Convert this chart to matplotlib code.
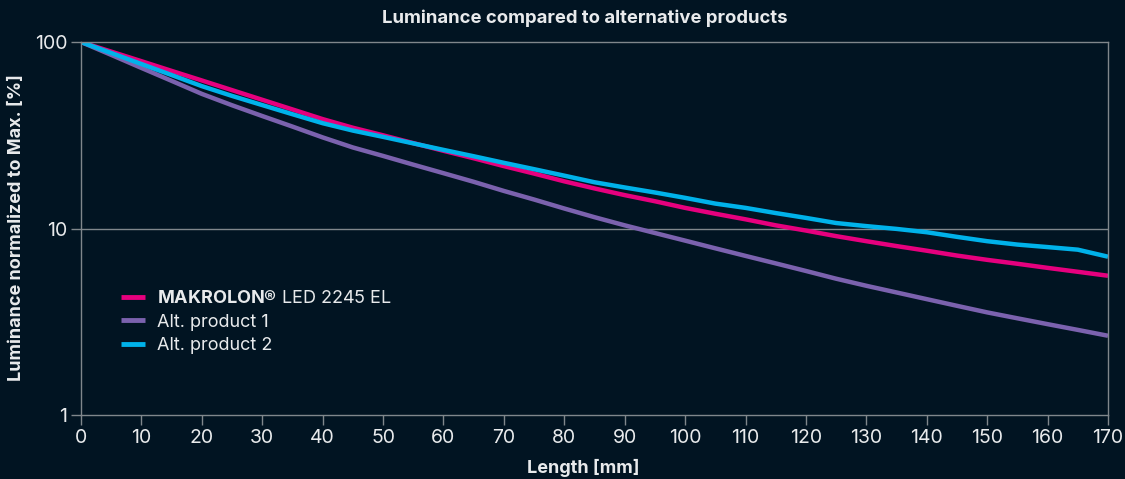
import matplotlib
matplotlib.use("Agg")
import matplotlib.pyplot as plt

plt.rcParams['font.family'] = ['Inter', 'DejaVu Sans']
plt.rcParams['mathtext.fontset'] = 'custom'
plt.rcParams['mathtext.bf'] = 'Inter:bold'
plt.rcParams['mathtext.rm'] = 'Inter'

length_mm = [0, 5, 10, 15, 20, 25, 30, 35, 40, 45, 50, 55, 60, 65, 70, 75, 80, 85,
             90, 95, 100, 105, 110, 115, 120, 125, 130, 135, 140, 145, 150, 155,
             160, 165, 170]

makrolon = [100, 88.8, 78.9, 70.0, 62.2, 55.2, 49.0, 43.5, 38.6, 34.7, 31.6, 28.7,
            26.1, 23.8, 21.6, 19.7, 17.9, 16.4, 15.1, 14.0, 12.9, 12.0, 11.2, 10.4,
            9.75, 9.10, 8.55, 8.05, 7.60, 7.16, 6.79, 6.47, 6.15, 5.86, 5.58]

alt1 = [100, 85.3, 72.6, 61.9, 52.7, 45.8, 40.1, 35.2, 30.8, 27.2, 24.5, 22.0,
        19.8, 17.8, 15.9, 14.3, 12.8, 11.5, 10.4, 9.46, 8.61, 7.83, 7.13, 6.50,
        5.92, 5.38, 4.93, 4.54, 4.18, 3.85, 3.55, 3.30, 3.07, 2.86, 2.66]

alt2 = [100, 87.3, 76.2, 66.5, 58.0, 51.4, 45.9, 41.0, 36.7, 33.5, 31.0, 28.6,
        26.4, 24.4, 22.5, 20.8, 19.2, 17.7, 16.6, 15.6, 14.6, 13.6, 12.9, 12.1,
        11.4, 10.7, 10.3, 9.95, 9.55, 9.02, 8.55, 8.2, 7.95, 7.7, 7.06]

series_labels = [r"$\mathbf{MAKROLON®}$ LED 2245 EL", "Alt. product 1", "Alt. product 2"]
x_ticks = list(range(0, 171, 10))
y_ticks = [1, 10, 100]
y_tick_labels = ["1", "10", "100"]

BG = "#011422"
GRID = "#80878c"
TXT = "#e8eaec"
colors = ["#e6007e", "#7b62ae", "#00b2ea"]

W, H = 1125, 479
fig = plt.figure(figsize=(W / 100, H / 100), dpi=100, facecolor=BG)
ax = fig.add_axes([81 / W, 1 - 415 / H, (1108 - 81) / W, (415 - 42) / H])
ax.set_facecolor(BG)

for ys, c, lab in zip([makrolon, alt1, alt2], colors, series_labels):
    ax.plot(length_mm, ys, color=c, lw=3.2, label=lab, solid_capstyle='butt')

ax.set_yscale('log')
ax.set_xlim(0, 170)
ax.set_ylim(1, 100)
ax.set_xticks(x_ticks)
ax.set_yticks(y_ticks)
ax.set_yticklabels(y_tick_labels)
ax.yaxis.set_minor_locator(matplotlib.ticker.NullLocator())
ax.tick_params(colors=GRID, labelcolor=TXT, labelsize=14, length=7, width=1, pad=3)
for s in ax.spines.values():
    s.set_color(GRID)
    s.set_linewidth(1)
ax.axhline(10, color=GRID, lw=1, zorder=0)

fig.text(585 / W, 1 - 18 / H, "Luminance compared to alternative products", color=TXT,
         fontsize=13.3, fontweight='bold', ha='center', va='center')
fig.text(17 / W, 1 - 228 / H, "Luminance normalized to Max. [%]", color=TXT,
         fontsize=13, fontweight='bold', ha='center', va='center', rotation=90)
fig.text(583 / W, 1 - 468 / H, "Length [mm]", color=TXT, fontsize=13,
         fontweight='bold', ha='center', va='center')

leg = ax.legend(loc='upper left', bbox_to_anchor=((121 - 81) / 1027, 0.335),
                borderaxespad=0, borderpad=0, frameon=False,
                fontsize=13, handlelength=1.33, handletextpad=0.67, labelspacing=0.36,
                labelcolor=TXT)
for h in leg.legend_handles:
    h.set_linewidth(3.5)

fig.savefig("out.png", dpi=100, facecolor=BG)
